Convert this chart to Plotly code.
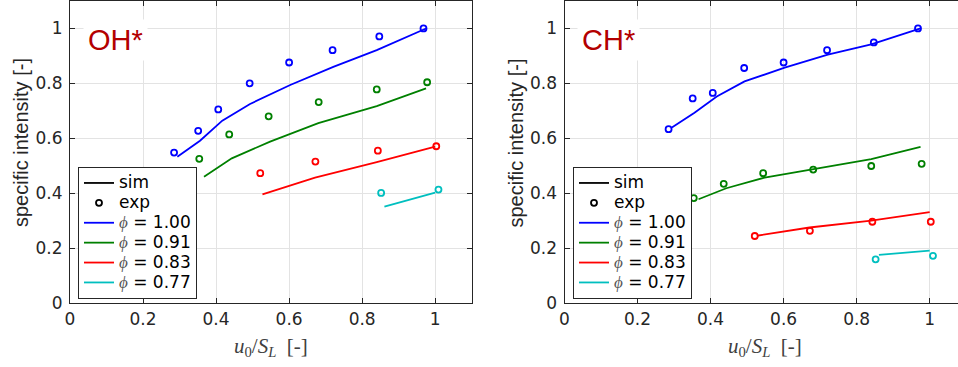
import plotly.graph_objects as go

W, H = 958, 367

# ---------------- data ----------------
phi_labels = ["1.00", "0.91", "0.83", "0.77"]
colors = ["#0000ff", "#008000", "#ff0000", "#00bfbf"]

# simulation x positions (u0/SL)
sim_x_100 = [0.294, 0.356, 0.417, 0.493, 0.603, 0.721, 0.840, 0.975]
sim_x_091 = [0.367, 0.443, 0.548, 0.680, 0.840, 0.975]
sim_x_083 = [0.527, 0.671, 0.840, 1.000]
sim_x_077 = [0.861, 1.000]

# experiment x positions (u0/SL)
exp_x_100 = [0.285, 0.351, 0.406, 0.492, 0.600, 0.719, 0.847, 0.968]
exp_x_091 = [0.354, 0.436, 0.544, 0.681, 0.840, 0.978]
exp_x_083 = [0.521, 0.672, 0.843, 1.003]
exp_x_077 = [0.852, 1.009]

# OH* specific intensity
oh_sim_100 = [0.533, 0.591, 0.664, 0.725, 0.794, 0.860, 0.921, 1.000]
oh_sim_091 = [0.460, 0.527, 0.588, 0.655, 0.717, 0.782]
oh_sim_083 = [0.396, 0.457, 0.513, 0.570]
oh_sim_077 = [0.351, 0.402]
oh_exp_100 = [0.548, 0.627, 0.705, 0.800, 0.876, 0.921, 0.971, 1.000]
oh_exp_091 = [0.525, 0.614, 0.680, 0.732, 0.778, 0.804]
oh_exp_083 = [0.473, 0.515, 0.555, 0.571]
oh_exp_077 = [0.401, 0.413]

# CH* specific intensity
ch_sim_100 = [0.639, 0.693, 0.752, 0.807, 0.857, 0.905, 0.942, 1.000]
ch_sim_091 = [0.378, 0.418, 0.457, 0.488, 0.524, 0.569]
ch_sim_083 = [0.245, 0.275, 0.300, 0.331]
ch_sim_077 = [0.175, 0.191]
ch_exp_100 = [0.633, 0.745, 0.765, 0.856, 0.876, 0.921, 0.949, 1.000]
ch_exp_091 = [0.382, 0.434, 0.473, 0.486, 0.499, 0.507]
ch_exp_083 = [0.244, 0.263, 0.296, 0.296]
ch_exp_077 = [0.159, 0.172]

tick_vals = [0, 0.2, 0.4, 0.6, 0.8, 1.0]
tick_text = ["0", "0.2", "0.4", "0.6", "0.8", "1"]

sim_x = [sim_x_100, sim_x_091, sim_x_083, sim_x_077]
exp_x = [exp_x_100, exp_x_091, exp_x_083, exp_x_077]
panels = [
    ("x", "y", "legend", [oh_sim_100, oh_sim_091, oh_sim_083, oh_sim_077],
     [oh_exp_100, oh_exp_091, oh_exp_083, oh_exp_077]),
    ("x2", "y2", "legend2", [ch_sim_100, ch_sim_091, ch_sim_083, ch_sim_077],
     [ch_exp_100, ch_exp_091, ch_exp_083, ch_exp_077]),
]

LEG_SPAN = '<span style="font-size:17px">{}</span>'
PHI = '<span style="font-family:\'Liberation Serif\';color:#555555"><i>ϕ</i></span>'

fig = go.Figure()
for xa, ya, lg, sims, exps in panels:
    fig.add_trace(go.Scatter(x=[None], y=[None], mode="lines", name=LEG_SPAN.format("sim"),
                             line=dict(color="black", width=1.8),
                             xaxis=xa, yaxis=ya, legend=lg))
    fig.add_trace(go.Scatter(x=[None], y=[None], mode="markers", name=LEG_SPAN.format("exp"),
                             marker=dict(symbol="circle-open", size=6, color="black",
                                         line=dict(width=1.8, color="black")),
                             xaxis=xa, yaxis=ya, legend=lg))
    for i in range(4):
        fig.add_trace(go.Scatter(x=sim_x[i], y=sims[i], mode="lines",
                                 name=LEG_SPAN.format(f"{PHI} = {phi_labels[i]}"),
                                 line=dict(color=colors[i], width=1.8),
                                 xaxis=xa, yaxis=ya, legend=lg))
    for i in range(4):
        fig.add_trace(go.Scatter(x=exp_x[i], y=exps[i], mode="markers",
                                 showlegend=False,
                                 marker=dict(symbol="circle-open", size=6, color=colors[i],
                                             line=dict(width=1.8, color=colors[i])),
                                 xaxis=xa, yaxis=ya))

# geometry (pixels)
MT, MB = 1, 64
L0, L1 = 70, 471.7
R0 = 564.5
unit = (L1 - L0) / 1.1
r_max = (W - R0) / unit


def px(x):
    return x / W


def py(y):
    return (H - MB - y) / (H - MT - MB)


axis_common = dict(showline=True, linecolor="#262626", linewidth=1,
                   ticks="inside", ticklen=5, tickcolor="#262626",
                   showgrid=True, gridcolor="#e3e3e3", gridwidth=1,
                   zeroline=False, automargin=False,
                   tickfont=dict(size=17, family="DejaVu Sans", color="#262626"),
                   tickvals=tick_vals, ticktext=tick_text)

leg_common = dict(bgcolor="white", bordercolor="#262626", borderwidth=1,
                  font=dict(size=13, family="DejaVu Sans", color="black"),
                  tracegroupgap=0, xanchor="left", yanchor="top", itemwidth=30)

fig.update_layout(
    width=W, height=H,
    margin=dict(l=0, r=0, t=MT, b=MB, autoexpand=False),
    paper_bgcolor="white", plot_bgcolor="white",
    font=dict(family="Liberation Sans", color="#262626"),
    xaxis=dict(domain=[px(L0), px(L1)], range=[0, 1.1], mirror="ticks",
               anchor="y", ticklabelstandoff=1, **axis_common),
    yaxis=dict(domain=[0, 1], range=[0, 1.1], mirror="ticks", anchor="x",
               ticklabelstandoff=3, **axis_common),
    xaxis2=dict(domain=[px(R0), 1.0], range=[0, r_max], mirror="ticks",
                anchor="y2", ticklabelstandoff=1, **axis_common),
    yaxis2=dict(domain=[0, 1], range=[0, 1.1], mirror=False, anchor="x2",
                ticklabelstandoff=3, **axis_common),
    legend=dict(x=px(78), y=py(167), **leg_common),
    legend2=dict(x=px(573), y=py(167), **leg_common),
    showlegend=True,
)

annotations = []
for cx, label in [(115, "OH*"), (608, "CH*")]:
    annotations.append(dict(x=px(cx), y=py(40), xref="paper", yref="paper",
                            text=label, showarrow=False, xanchor="center",
                            yanchor="middle", bgcolor="white", borderpad=4,
                            font=dict(size=29, color="#b30000")))
for cx in [21, 515.5]:
    annotations.append(dict(x=px(cx), y=py(143), xref="paper", yref="paper",
                            text="specific intensity [-]", textangle=-90,
                            showarrow=False, xanchor="center", yanchor="middle",
                            font=dict(size=20, color="#262626")))
xlabel = "<i>u</i><sub>0</sub>/<i>S</i><sub><i>L</i></sub>  [-]"
for cx in [270.8, 765]:
    annotations.append(dict(x=px(cx), y=py(347), xref="paper", yref="paper",
                            text=xlabel, showarrow=False, xanchor="center",
                            yanchor="middle",
                            font=dict(size=21, family="Liberation Serif", color="#404040")))
fig.update_layout(annotations=annotations)

fig.write_html("out.html",
               config={"displayModeBar": False},
               post_script="document.body.style.margin='0';document.body.style.overflow='hidden';")
